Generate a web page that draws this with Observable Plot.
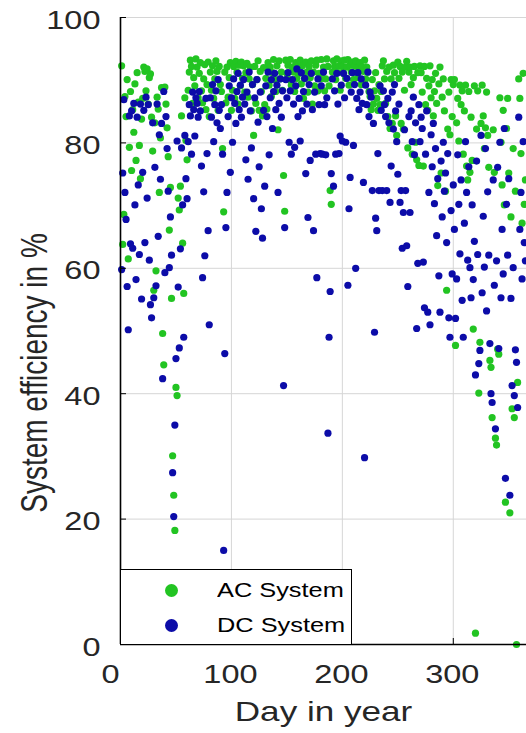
<!DOCTYPE html>
<html><head><meta charset="utf-8">
<script src="https://cdn.jsdelivr.net/npm/d3@7"></script>
<script src="https://cdn.jsdelivr.net/npm/@observablehq/plot@0.6"></script>
<style>
body{margin:0;background:#fff;}
#wrap{position:relative;width:526px;height:733px;overflow:hidden;background:#fff;}
#legend{position:absolute;left:120px;top:569px;width:232px;height:76px;border:1.3px solid #000;background:#fff;box-sizing:border-box;font-family:"Liberation Sans",Arial,sans-serif;font-size:19.5px;color:#000;}
.mk{position:absolute;width:13px;height:13px;border-radius:50%;}
.lt{position:absolute;left:96px;line-height:20px;transform:scaleX(1.3);transform-origin:left center;white-space:nowrap;}
</style></head>
<body><div id="wrap"></div>
<script>
const dayTicks = [0, 100, 200, 300];
const effTicks = [0, 20, 40, 60, 80, 100];
const seriesNames = ["AC System", "DC System"];
const seriesColors = ["#22c422", "#0c0ca8"];

// daily system efficiency in %, day 1..365
const acEff = [
92.3,63.8,68.6,87.4,84.2,90.1,61.5,79.3,88.2,75.6, 85.3,81.7,89.4,77.2,91.2,86.5,79.6,74.3,83.8,87.1,
92.1,91.4,88.3,91.8,86.2,90.4,91.0,84.1,78.7,56.5, 83.2,59.6,87.3,85.4,72.1,80.8,88.8,49.6,44.6,88.9,
86.2,82.4,77.8,66.1,72.9,55.2,30.1,23.8,18.2,41.0, 39.7,71.2,69.3,73.1,84.3,64.0,56.0,87.2,80.4,77.3,
88.4,91.3,93.2,92.2,86.3,90.4,89.1,93.4,92.1,87.2, 91.1,92.8,88.3,86.4,90.2,92.5,85.3,89.3,92.9,84.2,
91.3,88.4,92.3,87.1,90.2,93.1,91.4,85.2,92.2,89.3, 88.2,79.1,69.0,91.3,86.4,92.1,87.3,90.4,92.8,85.2,
88.4,92.2,87.1,93.0,91.3,86.2,92.4,89.1,92.9,90.3, 92.3,88.1,91.2,92.7,87.3,90.2,92.1,85.1,89.3,81.2,
92.2,86.3,90.1,93.1,85.2,91.4,88.2,84.3,92.0,86.1, 90.3,85.4,92.8,89.2,92.1,87.4,91.2,93.3,90.1,88.2,
92.3,82.1,93.1,90.2,91.3,88.4,74.8,69.1,93.2,91.1, 92.4,90.1,93.3,89.2,92.1,91.3,88.2,92.8,90.3,92.2,
91.1,93.2,89.4,92.3,87.1,90.2,92.9,91.3,88.1,92.2, 90.4,93.1,86.2,91.3,89.1,92.4,93.2,88.3,91.1,90.2,
93.3,91.2,92.1,88.3,90.2,93.4,92.2,89.1,72.4,70.2, 91.3,93.1,92.2,90.1,93.4,91.2,92.3,88.4,93.1,92.2,
91.1,93.2,90.3,92.1,93.3,89.2,92.4,91.3,92.9,90.1, 92.3,93.1,91.2,90.4,92.2,92.8,89.3,92.1,91.4,93.2,
90.2,92.1,91.3,88.2,87.4,85.3,90.1,86.2,88.3,91.2, 87.1,85.2,89.3,86.1,88.2,92.3,93.1,90.2,86.3,91.4,
84.2,92.1,82.3,90.2,83.1,92.4,91.2,84.3,81.2,92.9, 90.3,92.2,83.1,91.3,82.2,88.4,92.1,93.0,79.2,91.3,
92.1,89.3,78.2,90.4,92.2,80.1,77.3,91.2,76.4,92.3, 91.2,88.1,76.3,92.2,86.1,90.3,85.2,89.1,92.3,87.2,
90.1,84.3,88.2,91.1,86.3,73.2,89.4,92.1,75.2,87.3, 90.2,85.1,72.3,56.5,82.2,88.1,81.3,90.1,84.2,89.3,
90.1,47.7,83.2,87.1,80.3,89.2,86.1,88.3,78.2,85.1, 89.2,76.3,74.1,88.2,75.3,84.1,77.2,50.3,89.1,1.8,
82.2,88.3,40.1,48.2,83.1,89.2,84.3,79.1,82.4,88.1, 81.2,76.1,45.3,44.2,36.2,82.1,75.3,32.9,31.8,47.1,
46.3,87.2,80.1,73.3,85.2,70.1,22.7,82.3,87.1,75.2, 21.0,68.2,37.6,79.1,36.2,72.3,0.0,41.8,90.2,87.1,
78.3,67.2,91.1,70.2,74.1
];
const dcEff = [
59.8,75.2,86.9,72.1,67.8,57.1,50.2,84.3,63.9,85.1, 63.2,86.3,70.1,58.2,84.1,73.3,62.2,86.2,55.1,75.3,
85.2,64.1,87.3,71.2,86.1,61.3,54.2,52.1,83.2,55.3, 76.1,57.2,86.2,65.1,81.3,74.2,83.1,42.4,88.2,59.3,
84.2,79.1,72.3,60.1,68.2,62.1,27.4,20.4,35.0,45.6, 80.3,57.0,47.3,63.1,79.2,70.1,49.0,81.2,74.3,71.1,
80.2,86.1,84.3,78.2,88.1,85.3,81.1,87.2,86.3,84.1, 88.2,85.1,76.3,58.5,72.2,62.0,87.1,78.3,66.0,51.0,
87.2,84.1,89.3,80.2,86.1,88.3,83.2,90.1,85.2,82.3, 86.1,78.2,15.0,46.4,66.5,72.1,84.2,89.1,75.3,87.2,
80.1,90.2,86.3,83.1,88.2,91.1,85.3,89.2,84.1,87.3, 90.1,86.2,77.3,88.1,74.2,91.3,85.1,79.2,89.3,71.1,
87.2,65.9,90.1,83.3,76.2,88.1,69.5,64.8,85.2,73.1, 89.1,84.2,91.3,78.1,87.2,90.1,82.3,88.2,91.1,85.3,
89.2,72.1,86.3,90.2,84.1,88.3,41.3,66.5,90.1,87.2, 91.2,80.1,88.3,78.2,90.1,86.2,79.3,89.1,91.8,84.2,
87.1,80.3,91.2,85.1,88.2,90.3,75.1,86.2,68.1,89.3, 77.2,91.1,85.3,66.0,88.1,78.2,58.5,90.2,86.1,78.3,
89.1,78.2,91.3,86.1,78.1,87.2,33.7,49.0,56.3,75.1, 90.2,73.1,88.3,78.2,91.1,86.2,78.3,81.1,89.2,80.3,
91.1,87.2,80.1,90.3,57.3,69.5,74.5,88.1,91.2,79.6, 89.3,60.0,87.1,91.2,85.3,88.1,90.2,86.3,73.7,29.8,
89.2,86.1,91.3,84.2,88.1,87.3,72.4,83.1,49.8,68.0, 66.0,78.3,72.4,89.1,85.2,72.4,88.3,86.1,84.2,72.4,
87.1,83.2,70.5,76.3,88.1,82.2,89.3,85.1,80.2,75.0, 86.2,70.5,72.4,63.2,68.9,82.1,72.4,63.6,57.1,84.2,
68.9,85.1,80.2,87.3,78.1,83.2,50.4,60.8,86.1,80.2, 84.1,82.3,61.0,53.7,78.2,85.1,53.0,72.1,51.0,81.3,
76.2,83.1,70.3,79.1,65.2,74.3,58.8,53.0,77.1,68.2, 80.1,72.3,75.2,64.1,78.3,52.1,49.0,69.2,59.1,73.3,
66.2,52.0,58.3,78.1,70.2,62.3,74.1,54.9,49.0,67.2, 80.2,72.1,61.3,76.2,60.1,55.3,70.1,58.2,64.3,43.0,
77.1,62.2,44.8,46.9,81.2,56.1,68.3,60.2,79.1,53.2, 72.2,62.1,48.0,40.0,38.6,74.1,57.3,34.4,61.2,76.1,
47.2,80.1,55.3,66.2,59.1,82.3,26.5,70.2,62.1,74.3, 23.8,55.2,41.3,60.1,39.7,47.0,45.0,37.8,84.1,66.2,
72.1,58.3,80.2,64.1,61.2
];

const rows = [];
acEff.forEach((v, i) => rows.push({day: i + 1, eff: v, system: seriesNames[0]}));
dcEff.forEach((v, i) => rows.push({day: i + 1, eff: v, system: seriesNames[1]}));

const textColor = "#262626";
const chart = Plot.plot({
  width: 526, height: 733,
  marginLeft: 120, marginRight: 0, marginTop: 17, marginBottom: 89,
  style: {fontFamily: '"Liberation Sans", Arial, sans-serif', background: "#fff"},
  x: {domain: [0, 366]},
  y: {domain: [0, 100]},
  color: {domain: seriesNames, range: seriesColors},
  marks: [
    Plot.gridX(dayTicks.filter(d => d > 0), {stroke: "#d6d6d6", strokeOpacity: 1}),
    Plot.gridY(effTicks.filter(d => d > 0), {stroke: "#d6d6d6", strokeOpacity: 1}),
    Plot.dot(rows, {x: "day", y: "eff", fill: "system", r: 3.6}),
    Plot.ruleX([0], {stroke: "#000", strokeWidth: 1.6}),
    Plot.ruleY([0], {stroke: "#000", strokeWidth: 1.6}),
    Plot.axisX(dayTicks, {tickSize: -6, text: null, label: null, stroke: "#000"}),
    Plot.axisY(effTicks, {tickSize: -6, text: null, label: null, stroke: "#000"}),
    Plot.axisX(dayTicks.filter(d => d === 0), {tickSize: 0, tickPadding: 21, fontSize: 25, fill: textColor, label: null, dx: -10}),
    Plot.axisX(dayTicks.filter(d => d > 0), {tickSize: 0, tickPadding: 21, fontSize: 25, fill: textColor, label: null, dx: -1}),
    Plot.axisY(effTicks, {tickSize: 0, tickPadding: 20, fontSize: 25, fill: textColor, label: null, dy: 3}),
    Plot.text(["Day in year"], {text: d => d, frameAnchor: "bottom", dy: 76, fontSize: 27, fill: textColor}),
    Plot.text(["System efficiency in %"], {text: d => d, frameAnchor: "left", textAnchor: "middle", dx: -85, dy: 42, rotate: -90, fontSize: 28, fill: textColor})
  ]
});

// reference picture is stretched horizontally: widen the glyphs about their anchors
chart.querySelectorAll("text").forEach(t => {
  const tr = t.getAttribute("transform") || "";
  if (tr.includes("rotate")) t.setAttribute("transform", tr.replace("rotate", "scale(1.3,1) rotate"));
  else t.setAttribute("transform", tr + " scale(1.3,1)");
});

const wrap = document.getElementById("wrap");
wrap.appendChild(chart);

const legend = document.createElement("div");
legend.id = "legend";
seriesNames.forEach((name, i) => {
  const cy = i === 0 ? 20 : 55;
  const mk = document.createElement("div");
  mk.className = "mk";
  mk.style.background = seriesColors[i];
  mk.style.left = (50 - 6.5) + "px";
  mk.style.top = (cy - 6.5) + "px";
  const lt = document.createElement("div");
  lt.className = "lt";
  lt.textContent = name;
  lt.style.top = (cy - 10) + "px";
  legend.appendChild(mk);
  legend.appendChild(lt);
});
wrap.appendChild(legend);
</script>
</body></html>
